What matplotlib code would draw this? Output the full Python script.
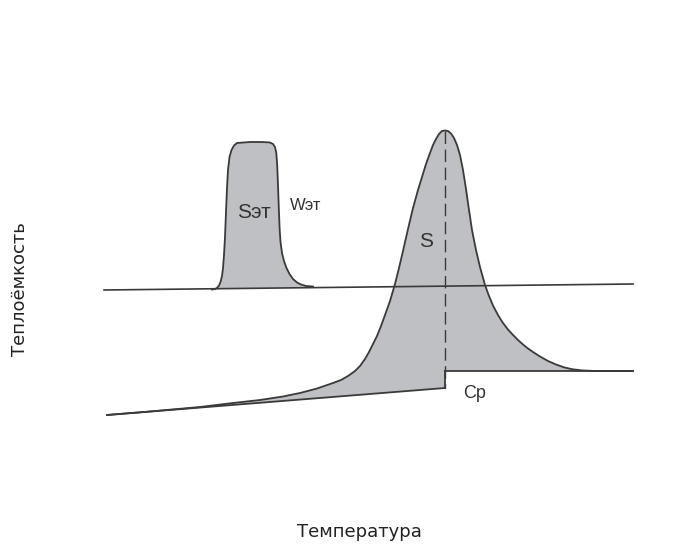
import numpy as np
import matplotlib
matplotlib.use("Agg")
import matplotlib.pyplot as plt

plt.rcParams['font.family'] = ['Liberation Sans', 'DejaVu Sans']

# working canvas units (x to the right, y downward)
W, H = 697, 546

# upper baseline (standard run)
base_x = [104, 633]
base_y = [290, 284]

# standard (calibration) peak
std_x = [212, 215, 217, 219, 220.5, 222, 223, 224, 225, 226, 227, 228, 229.5, 231.5,
         234, 237, 250, 262, 270, 273, 275, 276.3, 277.2, 278, 278.8, 279.6, 280.5,
         282, 284, 286.5, 289.5, 293, 297, 301, 306, 313]
std_y = [289.5, 289, 288, 285.5, 282, 276, 268, 255, 237, 212, 188, 170, 157, 150,
         145.5, 143, 142, 142, 142.5, 144, 147, 153, 165, 185, 208, 228, 242,
         253, 261, 268, 274, 279, 282.5, 284.5, 286, 286.5]

# sample curve (rises from the sloped baseline, peaks, settles on the new level)
smp_x = [107, 150, 200, 233, 260, 283, 300, 317, 333, 341, 348, 355, 360, 365,
         369, 373, 377, 381, 385, 390, 395, 399, 403, 408, 413, 418, 422, 426,
         430, 433, 436, 439, 442, 445, 448, 451, 454, 457, 460, 463, 466, 469,
         472, 476, 480, 485, 489, 493, 498, 503, 508, 513, 518, 523, 528, 533,
         540, 548, 556, 564, 572, 582, 595, 633]
smp_y = [415, 411.5, 407, 403, 400, 396.5, 393, 388.5, 383, 380, 376, 371, 366, 359,
         352, 344, 336, 326, 315, 301, 284, 268, 251, 229, 208, 190, 177, 164,
         153, 145, 139, 134, 131, 130.5, 131, 133.5, 138, 145, 155, 170, 189, 210,
         230, 250, 267, 285, 296, 305.5, 315, 323, 329.5, 335, 340, 344.5, 348.5, 352,
         356.5, 361, 364.5, 367.3, 369.2, 370.4, 371, 371]

# extrapolated baselines under the sample peak
low_x = [107, 445]
low_y = [415, 388]
step_x = 445
cp_y = 371

line_c = '#3a3a3a'
fill_c = '#bfc0c4'
text_c = '#333333'

fig = plt.figure(figsize=(W / 100, H / 100), dpi=100)
ax = fig.add_axes([0, 0, 1, 1])
ax.set_xlim(0, W)
ax.set_ylim(H, 0)
ax.axis('off')

# shaded areas
std_base = np.interp(std_x[::-1], base_x, base_y)
ax.fill(list(std_x) + list(std_x[::-1]), list(std_y) + list(std_base),
        color=fill_c, lw=0, zorder=1)

poly_x = list(smp_x) + [smp_x[-1], step_x, step_x, low_x[0]]
poly_y = list(smp_y) + [cp_y, cp_y, low_y[1], low_y[0]]
ax.fill(poly_x, poly_y, color=fill_c, lw=0, zorder=1)

# outlines
kw = dict(color=line_c, lw=1.3, zorder=3, solid_joinstyle='round')
ax.plot(std_x, std_y, **kw)
ax.plot(base_x, base_y, color=line_c, lw=1.2, zorder=3)
ax.plot(smp_x, smp_y, **kw)
ax.plot(low_x, low_y, **kw)
ax.plot([step_x, step_x], [low_y[1], cp_y], **kw)
ax.plot([step_x, smp_x[-1]], [cp_y, cp_y], **kw)

peak_y = min(smp_y)
ax.plot([step_x, step_x], [peak_y, low_y[1]], color=line_c, lw=1.0,
        dashes=(9, 4), zorder=3)

# labels on the curves
ax.text(237, 218, 'Sэт', fontsize=15, ha='left', va='baseline', color=text_c, zorder=4)
ax.text(290, 210, 'Wэт', fontsize=12, ha='left', va='baseline', color=text_c, zorder=4)
ax.text(426, 247, 'S', fontsize=15, ha='center', va='baseline', color=text_c, zorder=4)
ax.text(463, 398, 'Cp', fontsize=13, ha='left', va='baseline', color=text_c, zorder=4)

# axis titles
ax.text(359, 532, 'Температура', fontsize=13, ha='center', va='center',
        color='#222222', family=['DejaVu Sans'])
ax.text(20, 289, 'Теплоёмкость', fontsize=13, ha='center', va='center',
        rotation=90, color='#222222', family=['DejaVu Sans'])

fig.savefig('out.png', dpi=100)
